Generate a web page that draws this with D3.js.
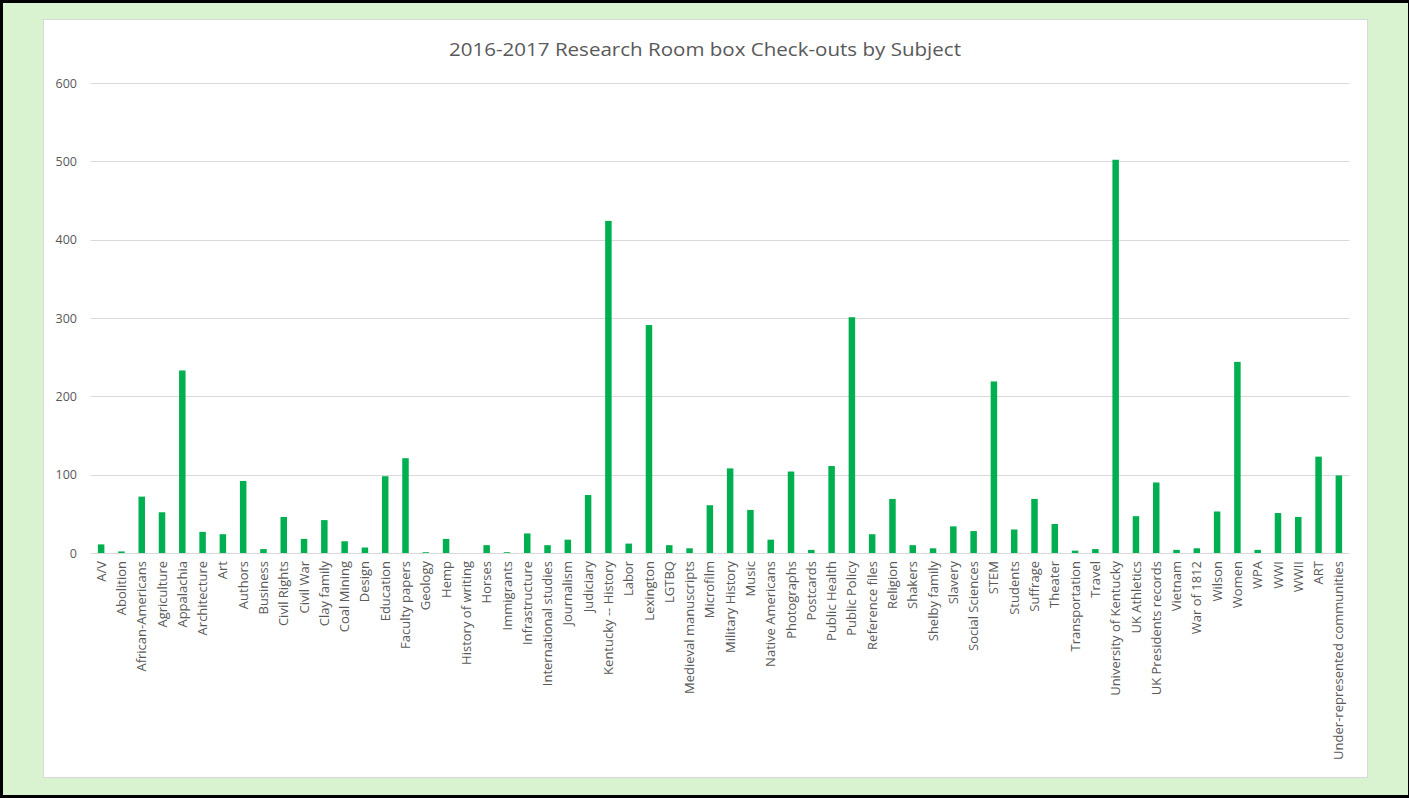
<!DOCTYPE html>
<html>
<head>
<meta charset="utf-8">
<script src="https://cdn.jsdelivr.net/npm/d3@7"></script>
<style>
  html, body { margin: 0; padding: 0; background: #ffffff; }
  svg { display: block; }
</style>
</head>
<body>
<svg id="chart" width="1409" height="798"></svg>
<script>
const title = "2016-2017 Research Room box Check-outs by Subject";
const categories = [
  "A/V","Abolition","African-Americans","Agriculture","Appalachia","Architecture","Art","Authors",
  "Business","Civil Rights","Civil War","Clay family","Coal Mining","Design","Education","Faculty papers",
  "Geology","Hemp","History of writing","Horses","Immigrants","Infrastructure","International studies",
  "Journalism","Judiciary","Kentucky -- History","Labor","Lexington","LGTBQ","Medieval manuscripts",
  "Microfilm","Military History","Music","Native Americans","Photographs","Postcards","Public Health",
  "Public Policy","Reference files","Religion","Shakers","Shelby family","Slavery","Social Sciences",
  "STEM","Students","Suffrage","Theater","Transportation","Travel","University of Kentucky",
  "UK Athletics","UK Presidents records","Vietnam","War of 1812","Wilson","Women","WPA","WWI","WWII",
  "ART","Under-represented communities"
];
const values = [
  11, 2, 72, 52, 233, 27, 24, 92,
  5, 46, 18, 42, 15, 7, 98, 121,
  1, 18, 0, 10, 1, 25, 10,
  17, 74, 424, 12, 291, 10, 6,
  61, 108, 55, 17, 104, 4, 111,
  301, 24, 69, 10, 6, 34, 28,
  219, 30, 69, 37, 3, 5, 502,
  47, 90, 4, 6, 53, 244, 4, 51, 46,
  123, 99
];
const yTicks = [0, 100, 200, 300, 400, 500, 600];

const W = 1409, H = 798;
const svg = d3.select("#chart");

// outer frame
svg.append("rect").attr("x", 0).attr("y", 0).attr("width", W).attr("height", H).attr("fill", "#000");
svg.append("rect").attr("x", 3).attr("y", 3).attr("width", W - 4).attr("height", H - 6).attr("fill", "#d9f2d0");
// chart panel
svg.append("rect").attr("x", 43.5).attr("y", 19.5).attr("width", 1324).attr("height", 758)
  .attr("fill", "#ffffff").attr("stroke", "#d9d9d9").attr("stroke-width", 1);

const plot = { left: 91, right: 1349, top: 83, bottom: 553 };

const x = d3.scaleBand().domain(categories).range([plot.left, plot.right])
  .paddingInner(0.68).paddingOuter(0.34);
const y = d3.scaleLinear().domain([0, 600]).range([plot.bottom, plot.top]);

// gridlines
svg.append("g").selectAll("line").data(yTicks).join("line")
  .attr("x1", plot.left).attr("x2", plot.right)
  .attr("y1", d => Math.round(y(d)) + 0.5).attr("y2", d => Math.round(y(d)) + 0.5)
  .attr("stroke", "#d9d9d9").attr("stroke-width", 1);

// y axis labels
const yAxis = d3.axisLeft(y).tickValues(yTicks).tickSize(0).tickPadding(0);
const yg = svg.append("g").attr("transform", `translate(${plot.left - 14},0)`).call(yAxis);
yg.select(".domain").remove();
yg.selectAll("text").attr("font-family", "'Open Sans', 'Noto Sans', sans-serif")
  .attr("font-size", 12.5).attr("fill", "#595959");

// bars
svg.append("g").selectAll("rect").data(categories).join("rect")
  .attr("x", d => x(d))
  .attr("width", x.bandwidth())
  .attr("y", (d, i) => y(values[i]))
  .attr("height", (d, i) => y(0) - y(values[i]))
  .attr("fill", "#00b050");

// x axis labels
const xAxis = d3.axisBottom(x).tickSize(0).tickPadding(0);
const xg = svg.append("g").attr("transform", `translate(0,${plot.bottom})`).call(xAxis);
xg.select(".domain").remove();
xg.selectAll("text")
  .attr("font-family", "'Open Sans', 'Noto Sans', sans-serif")
  .attr("font-size", 13).attr("fill", "#595959")
  .attr("text-anchor", "end")
  .attr("transform", "rotate(-90)")
  .attr("x", -8).attr("y", 0).attr("dy", "0.35em");

// title
svg.append("text").attr("x", 705).attr("y", 56).attr("text-anchor", "middle")
  .attr("font-family", "'Open Sans', 'Noto Sans', sans-serif")
  .attr("font-size", 19).attr("fill", "#595959")
  .attr("textLength", 512).attr("lengthAdjust", "spacingAndGlyphs")
  .text(title);
</script>
</body>
</html>
